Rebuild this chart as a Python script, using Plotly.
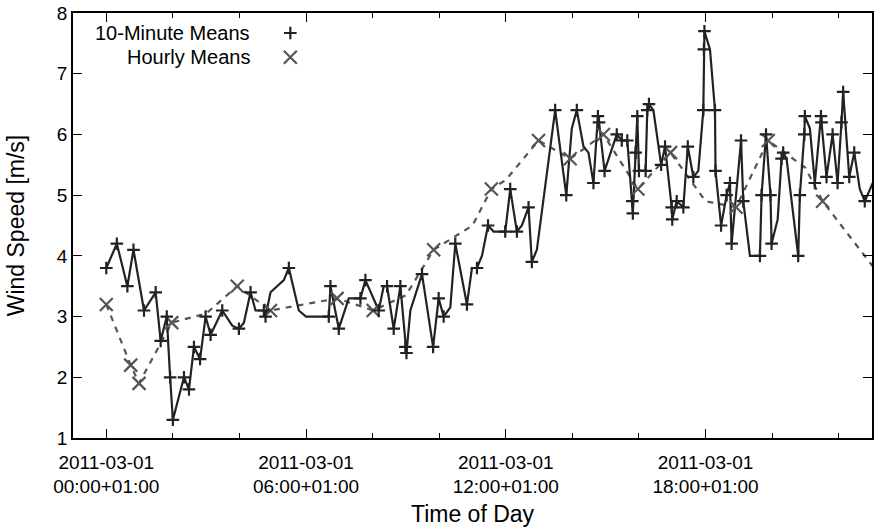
import plotly.graph_objects as go

# ---- data (time of day as "HH:MM", wind speed in m/s) ----
ten_min_times = ["00:00","00:19","00:38","00:49","01:08","01:29","01:38","01:49","01:55","02:00",
    "02:20","02:29","02:38","02:49","02:59","03:08","03:29","03:59","04:20","04:44","04:47",
    "05:29","06:41","06:44","06:59","07:38","07:47","08:11","08:26","08:38","08:50","08:59",
    "09:01","09:29","09:49","09:59","10:08","10:29","10:50","11:08","11:28","11:59","12:08",
    "12:20","12:41","12:47","13:29","13:49","14:08","14:38","14:46","14:48","14:58","15:20",
    "15:29","15:39","15:48","15:49","15:54","15:57","16:00","16:12","16:15","16:18","16:40",
    "16:47","16:59","17:00","17:08","17:20","17:28","17:38","17:56","17:57","17:58","18:17",
    "18:18","18:28","18:38","18:44","18:47","19:04","19:08","19:38","19:41","19:49","19:57",
    "19:59","20:17","20:20","20:47","20:50","20:58","20:59","21:17","21:28","21:29","21:38",
    "21:49","21:58","22:05","22:08","22:19","22:28","22:47"]
ten_min_speeds = [3.8,4.2,3.5,4.1,3.1,3.4,2.6,3.0,2.0,1.3,
    2.0,1.8,2.5,2.3,3.0,2.7,3.1,2.8,3.4,3.1,3.0,
    3.8,3.0,3.5,2.8,3.3,3.6,3.1,3.5,2.8,3.5,2.5,
    2.4,3.7,2.5,3.3,3.0,4.2,3.2,3.8,4.5,4.4,5.1,
    4.4,4.8,3.9,6.4,5.0,6.4,5.2,6.3,6.2,5.4,6.0,
    5.9,5.9,4.9,4.7,5.7,6.3,5.4,5.4,6.4,6.5,5.5,
    5.8,4.8,4.6,4.9,4.8,5.8,5.3,6.4,7.4,7.7,6.4,
    5.4,4.5,5.0,5.2,4.2,5.9,4.9,4.0,5.0,6.0,5.0,
    4.2,5.6,5.7,4.0,5.0,6.0,6.3,5.2,6.3,6.2,5.3,
    6.0,5.2,6.2,6.7,5.3,5.7,4.9]

# vertices of the solid line that carry no marker
line_only_times = ["03:47","04:08","04:29","04:38","04:56","05:20","05:47","06:00","07:17",
    "08:20","09:08","10:20","10:59","11:17","11:38","12:29","12:56","13:59","14:20","14:29",
    "16:26","17:47","18:08","19:20","20:10","20:26","21:08","22:38","23:11"]
line_only_speeds = [2.85,2.9,3.1,3.1,3.4,3.6,3.1,3.0,3.3,
    3.5,3.1,3.15,3.8,4.0,4.4,4.5,4.1,6.1,5.8,5.7,
    6.4,5.4,7.4,4.0,4.6,5.6,6.1,5.1,5.4]

hourly_times = ["00:00","00:44","00:59","01:58","03:56","04:56","06:56","08:01","09:50",
    "11:34","12:59","13:56","14:56","15:58","16:57","18:55","19:53","21:31"]
hourly_speeds = [3.2,2.2,1.9,2.9,3.5,3.1,3.3,3.1,4.1,
    5.1,5.9,5.6,6.0,5.1,5.7,4.8,5.9,4.9]

# vertices of the dashed line that carry no marker
hourly_line_only_times = ["03:00","09:00","11:00","12:00","18:00","21:00","23:29"]
hourly_line_only_speeds = [3.05,3.35,4.5,5.25,4.9,5.45,3.5]

tick_hours = [0, 6, 12, 18]
tick_labels = ["2011-03-01<br>00:00+01:00", "2011-03-01<br>06:00+01:00",
               "2011-03-01<br>12:00+01:00", "2011-03-01<br>18:00+01:00"]


def to_hours(s):
    h, m = s.split(":")
    return int(h) + int(m) / 60.0


def merged(t1, v1, t2, v2):
    pts = sorted([(to_hours(t), v) for t, v in zip(t1, v1)] +
                 [(to_hours(t), v) for t, v in zip(t2, v2)])
    return [p[0] for p in pts], [p[1] for p in pts]


DARK = "rgb(34,34,34)"
GRAY = "rgb(85,85,85)"
FONT = "Liberation Sans, Arial, sans-serif"
FS = 19
KEY_FS = 20

plus_marker = dict(symbol="cross-thin-open", size=9, color=DARK,
                   line=dict(color=DARK, width=2.2))
x_marker = dict(symbol="x-thin-open", size=13, color=GRAY,
                line=dict(color=GRAY, width=2.2))

fig = go.Figure()

hx, hy = merged(hourly_times, hourly_speeds, hourly_line_only_times, hourly_line_only_speeds)
fig.add_trace(go.Scatter(x=hx, y=hy, mode="lines",
                         line=dict(color=GRAY, width=2.2, dash="6px,6px"),
                         showlegend=False, hoverinfo="skip"))

lx, ly = merged(ten_min_times, ten_min_speeds, line_only_times, line_only_speeds)
fig.add_trace(go.Scatter(x=lx, y=ly, mode="lines",
                         line=dict(color=DARK, width=2.2),
                         showlegend=False, hoverinfo="skip"))

fig.add_trace(go.Scatter(x=[to_hours(t) for t in hourly_times], y=hourly_speeds,
                         mode="markers", name="Hourly Means", marker=x_marker,
                         showlegend=False))
fig.add_trace(go.Scatter(x=[to_hours(t) for t in ten_min_times], y=ten_min_speeds,
                         mode="markers", name="10-Minute Means", marker=plus_marker,
                         showlegend=False))

# gnuplot-style key: text right-aligned, sample symbol to the right
fig.add_trace(go.Scatter(x=[0.272], y=[0.953], xaxis="x2", yaxis="y2", mode="markers",
                         marker=plus_marker, showlegend=False, hoverinfo="skip"))
fig.add_trace(go.Scatter(x=[0.272], y=[0.896], xaxis="x2", yaxis="y2", mode="markers",
                         marker=x_marker, showlegend=False, hoverinfo="skip"))

fig.add_annotation(x=0.224, y=0.953, xref="paper", yref="paper", text="10-Minute Means",
                   showarrow=False, xanchor="right", yanchor="middle",
                   font=dict(family=FONT, size=KEY_FS, color="black"))
fig.add_annotation(x=0.224, y=0.896, xref="paper", yref="paper", text="Hourly Means",
                   showarrow=False, xanchor="right", yanchor="middle",
                   font=dict(family=FONT, size=KEY_FS, color="black"))

fig.update_layout(
    width=874, height=529,
    margin=dict(l=73, r=2, t=13, b=91),
    paper_bgcolor="white", plot_bgcolor="white",
    font=dict(family=FONT, size=FS, color="black"),
    showlegend=False,
    xaxis=dict(range=[-1, 23], tickvals=tick_hours, ticktext=tick_labels,
               ticks="inside", ticklen=9, tickwidth=1, tickcolor="black",
               showline=True, linecolor="black", linewidth=1.5, mirror="ticks",
               showgrid=False, zeroline=False, automargin=False,
               minor=dict(ticks="inside", ticklen=5, dtick=2, tick0=0,
                          tickcolor="black", showgrid=False),
               title=dict(text="Time of Day", standoff=10),
               tickfont=dict(size=FS), ticklabelstandoff=6),
    yaxis=dict(range=[1, 8], dtick=1, ticks="inside", ticklen=9, tickwidth=1,
               tickcolor="black", showline=True, linecolor="black", linewidth=1.5,
               mirror="ticks", showgrid=False, zeroline=False, automargin=False,
               title=dict(text="Wind Speed [m/s]", standoff=26),
               tickfont=dict(size=FS)),
    xaxis2=dict(overlaying="x", range=[0, 1], visible=False),
    yaxis2=dict(overlaying="y", range=[0, 1], visible=False, anchor="x2"),
)

# remove the default 8px page margin so the figure sits at the window's corner
fig.write_html("out.html", config={"displayModeBar": False},
               post_script="document.body.style.margin='0px';document.body.style.padding='0px';")
